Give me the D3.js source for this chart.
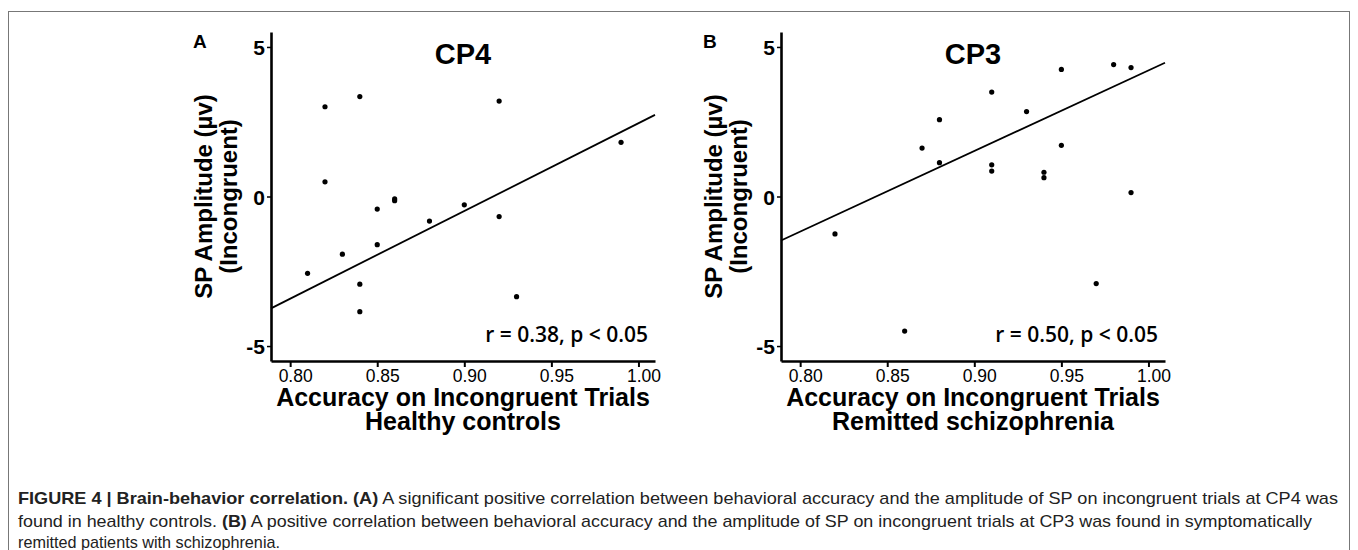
<!DOCTYPE html>
<html>
<head>
<meta charset="utf-8">
<script src="https://cdn.jsdelivr.net/npm/d3@7"></script>
<style>
  body { margin: 0; background: #fff; }
  text { font-family: "Liberation Sans", Arial, sans-serif; }
</style>
</head>
<body>
<script>
// values
const xTicks = [0.80, 0.85, 0.90, 0.95, 1.00];
const yTicks = [-5, 0, 5];

// panel A - healthy controls, CP4
const accA = [0.82, 0.84, 0.92, 0.82, 0.86, 0.86, 0.85, 0.88, 0.90, 0.92, 0.85, 0.83, 0.81, 0.84, 0.84, 0.93, 0.99];
const ampA = [3.0, 3.34, 3.19, 0.49, -0.08, -0.14, -0.42, -0.82, -0.28, -0.67, -1.61, -1.93, -2.57, -2.93, -3.85, -3.35, 1.81];
const fitA = [[0.789, -3.74], [1.0095, 2.73]];

// panel B - remitted schizophrenia, CP3
const accB = [0.82, 0.86, 0.87, 0.88, 0.88, 0.91, 0.91, 0.91, 0.93, 0.94, 0.94, 0.95, 0.95, 0.97, 0.98, 0.99, 0.99];
const ampB = [-1.25, -4.5, 1.62, 2.57, 1.13, 3.49, 1.06, 0.85, 2.84, 0.81, 0.63, 4.25, 1.71, -2.91, 4.41, 4.31, 0.13];
const fitB = [[0.789, -1.47], [1.0095, 4.47]];

const panels = [
  {letter: 'A', title: 'CP4', group: 'Healthy controls', stat: 'r = 0.38, p < 0.05', acc: accA, amp: ampA, fit: fitA, left: 271},
  {letter: 'B', title: 'CP3', group: 'Remitted schizophrenia', stat: 'r = 0.50, p < 0.05', acc: accB, amp: ampB, fit: fitB, left: 781}
];

const width = 1358, height = 550;
const svg = d3.select('body').append('svg').attr('width', width).attr('height', height);

// outer frame
svg.append('rect')
  .attr('x', 8.5).attr('y', 11.5)
  .attr('width', 1341).attr('height', 560)
  .attr('fill', 'none').attr('stroke', '#777').attr('stroke-width', 1);

const plotW = 384, plotH = 329, plotTop = 32;
const x = d3.scaleLinear().domain([0.789, 1.0095]).range([0, plotW]);
const y = d3.scaleLinear().domain([-5.5, 5.5]).range([plotH, 0]);

panels.forEach(p => {
  const g = svg.append('g').attr('transform', `translate(${p.left},${plotTop})`);

  // y axis
  const ya = g.append('g')
    .call(d3.axisLeft(y).tickValues(yTicks).tickSize(4).tickSizeOuter(0).tickFormat(d => String(d)));
  ya.select('.domain').attr('stroke-width', 2.6);
  ya.selectAll('.tick line').attr('stroke-width', 1.5);
  ya.selectAll('.tick text')
    .attr('x', -6).attr('dy', '0.36em')
    .style('font-size', '21px').style('font-weight', 'bold').attr('fill', '#000');

  // x axis
  const xa = g.append('g').attr('transform', `translate(0,${plotH})`)
    .call(d3.axisBottom(x).tickValues(xTicks).tickSize(6).tickSizeOuter(0).tickFormat(d3.format('.2f')));
  xa.select('.domain').attr('stroke-width', 2.6);
  xa.selectAll('.tick line').attr('stroke-width', 2);
  xa.selectAll('.tick text')
    .attr('x', 5).attr('y', 21).attr('dy', 0)
    .style('font-size', '17.5px').attr('fill', '#000');

  // regression line
  g.append('line')
    .attr('x1', x(p.fit[0][0])).attr('y1', y(p.fit[0][1]))
    .attr('x2', x(p.fit[1][0])).attr('y2', y(p.fit[1][1]))
    .attr('stroke', '#000').attr('stroke-width', 1.8);

  // points
  g.selectAll('circle')
    .data(p.acc.map((a, i) => [a, p.amp[i]]))
    .enter()
    .append('circle')
    .attr('cx', d => x(d[0]))
    .attr('cy', d => y(d[1]))
    .attr('r', 2.6)
    .attr('fill', '#000');

  // panel letter
  g.append('text')
    .attr('x', -78).attr('y', 16)
    .style('font-size', '19px').style('font-weight', 'bold')
    .text(p.letter);

  // title
  g.append('text')
    .attr('x', 192).attr('y', 32)
    .attr('text-anchor', 'middle')
    .style('font-size', '29px').style('font-weight', 'bold')
    .text(p.title);

  // y title (two lines)
  const yt = g.append('g').attr('transform', `translate(0,${y(0)}) rotate(-90)`);
  yt.append('text').attr('x', 0).attr('y', -59)
    .attr('text-anchor', 'middle')
    .style('font-size', '24px').style('font-weight', 'bold')
    .text('SP Amplitude (µv)');
  yt.append('text').attr('x', 0).attr('y', -34)
    .attr('text-anchor', 'middle')
    .style('font-size', '24px').style('font-weight', 'bold')
    .text('(Incongruent)');

  // x title
  g.append('text').attr('x', 192).attr('y', 374)
    .attr('text-anchor', 'middle')
    .style('font-size', '25px').style('font-weight', 'bold')
    .text('Accuracy on Incongruent Trials');
  g.append('text').attr('x', 192).attr('y', 398)
    .attr('text-anchor', 'middle')
    .style('font-size', '25px').style('font-weight', 'bold')
    .text(p.group);

  // stat
  g.append('text').attr('x', 377).attr('y', 310)
    .attr('text-anchor', 'end')
    .style('font-family', '"Open Sans", sans-serif')
    .style('font-size', '21px').style('font-weight', 600)
    .text(p.stat);
});

// caption (condensed face: squeeze glyphs to the measured line widths)
const captionLines = [
  [['FIGURE 4 | Brain-behavior correlation. ', true], ['(A)', true], [' A significant positive correlation between behavioral accuracy and the amplitude of SP on incongruent trials at CP4 was', false]],
  [['found in healthy controls. ', false], ['(B)', true], [' A positive correlation between behavioral accuracy and the amplitude of SP on incongruent trials at CP3 was found in symptomatically', false]],
  [['remitted patients with schizophrenia.', false]]
];
const captionWidths = [1320, 1294, 262];
const captionY = [504, 527, 548];

captionLines.forEach((parts, i) => {
  const t = svg.append('text')
    .attr('x', 18).attr('y', captionY[i])
    .attr('textLength', captionWidths[i]).attr('lengthAdjust', 'spacingAndGlyphs')
    .style('font-size', '17px').attr('fill', '#222');
  parts.forEach(([s, b]) => {
    t.append('tspan').style('font-weight', b ? 'bold' : 'normal').text(s);
  });
});
</script>
</body>
</html>
